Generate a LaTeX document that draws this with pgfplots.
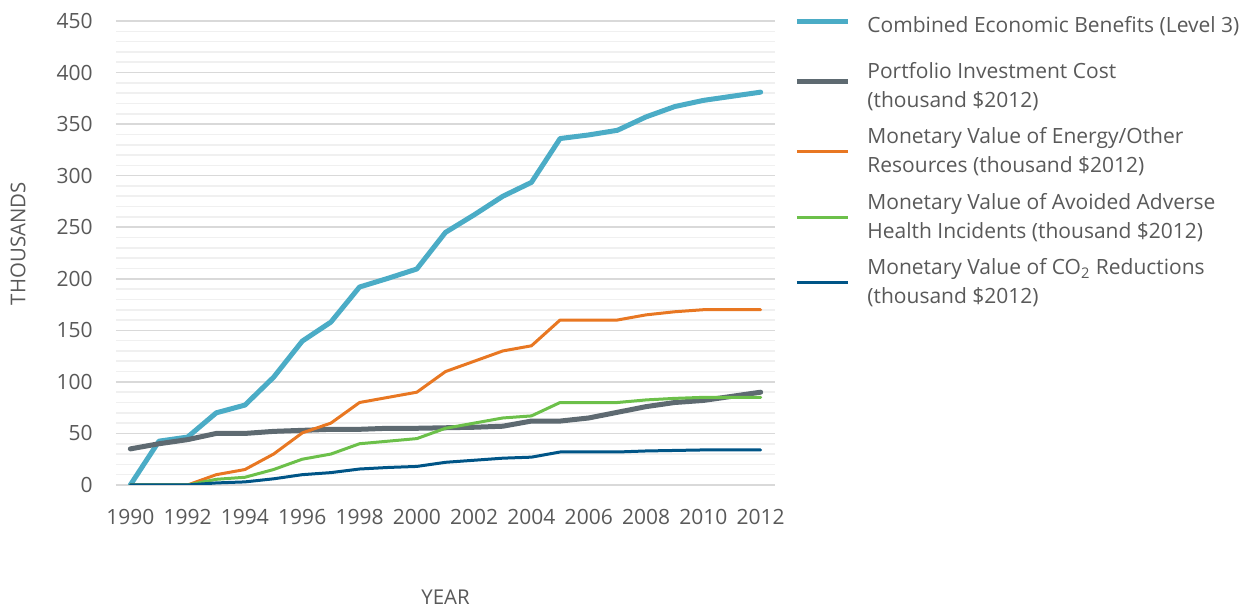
\documentclass[border=0pt]{standalone}
\usepackage{pgfplots}
\pgfplotsset{compat=1.18}
\usepackage{fontspec}
\setmainfont{Open Sans}
\definecolor{ccyan}{HTML}{4BACC6}
\definecolor{cgray}{HTML}{5E6A71}
\definecolor{corange}{HTML}{E87722}
\definecolor{cgreen}{HTML}{6CC04A}
\definecolor{cblue}{HTML}{005587}
\definecolor{txt}{HTML}{595959}
\definecolor{majgrid}{HTML}{D9D9D9}
\definecolor{mingrid}{HTML}{F0F0F0}
\begin{document}
\begin{tikzpicture}
\useasboundingbox (-58pt,-61.5pt) rectangle (568.5pt,242.5pt);
\begin{axis}[
  at={(0,0)}, anchor=south west,
  scale only axis, width=329.5pt, height=232pt,
  xmin=1989.5, xmax=2012.5, ymin=0, ymax=450,
  xtick={1990,1992,...,2012}, ytick={0,50,...,450},
  minor y tick num=4,
  ymajorgrids, yminorgrids,
  major grid style={majgrid, line width=0.8pt},
  minor grid style={mingrid, line width=0.8pt},
  axis line style={draw=none},
  major tick style={draw=none}, minor tick style={draw=none},
  /pgf/number format/assume math mode=true,
  /pgf/number format/1000 sep={},
  font=\fontsize{10.5pt}{12pt}\selectfont,
  tick label style={txt, font=\fontsize{10.5pt}{12pt}\selectfont},
  xticklabel style={inner sep=0pt, anchor=north, yshift=-12pt},
  yticklabel style={inner sep=0pt, anchor=east, xshift=-11.5pt},
  xlabel={YEAR}, ylabel={THOUSANDS},
  xlabel style={txt, font=\fontsize{10.2pt}{12pt}\selectfont, at={(axis description cs:0.5,-0.2414)}, anchor=center},
  ylabel style={txt, font=\fontsize{10.2pt}{12pt}\selectfont, at={(axis description cs:-0.1487,0.52)}, anchor=center},
  legend image code/.code={\draw[#1, line cap=butt] (0pt,0pt) -- (25.5pt,0pt);},
  legend style={draw=none, fill=none, at={(rel axis cs:1,1)}, anchor=north west,
    xshift=9.5pt, yshift=7pt, inner sep=0pt, row sep=8.75pt,
    font=\fontsize{10.5pt}{14.5pt}\selectfont, text=txt,
    nodes={inner sep=0pt, align=left, anchor=west},
    /tikz/column 1/.style={column sep=8.5pt}},
  legend cell align=left,
  every axis plot/.append style={line join=round, line cap=round},
]
\addplot[ccyan, line width=2.5pt] coordinates {
(1990,0) (1991,42.5) (1992,46.5) (1993,70) (1994,77.5) (1995,104.5) (1996,139.5) (1997,158) (1998,192) (1999,200.5) (2000,209.5) (2001,245) (2002,262) (2003,280) (2004,293.5) (2005,336) (2006,339.5) (2007,344) (2008,357) (2009,367) (2010,373) (2011,377) (2012,381)};
\addlegendentry{\rule[-7pt]{0pt}{19.5pt}Combined Economic Benefits (Level 3)}
\addplot[cgray, line width=2.5pt] coordinates {
(1990,35) (1991,40) (1992,44) (1993,50) (1994,50) (1995,52) (1996,53) (1997,54) (1998,54) (1999,55) (2000,55) (2001,55.5) (2002,56) (2003,57) (2004,62) (2005,62) (2006,65) (2007,70.5) (2008,76) (2009,80) (2010,82) (2011,86) (2012,90)};
\addlegendentry{\rule{0pt}{12.6pt}Portfolio Investment Cost\\(thousand \$2012)}
\addplot[corange, line width=1.5pt] coordinates {
(1990,0) (1991,0) (1992,0) (1993,10) (1994,15) (1995,30) (1996,50.5) (1997,60) (1998,80) (1999,85) (2000,90) (2001,110) (2002,120) (2003,130) (2004,135) (2005,160) (2006,160) (2007,160) (2008,165) (2009,168) (2010,170) (2011,170) (2012,170)};
\addlegendentry{Monetary Value of Energy/Other\\Resources (thousand \$2012)}
\addplot[cgreen, line width=1.5pt] coordinates {
(1990,0) (1991,0) (1992,0) (1993,5.5) (1994,7.5) (1995,15) (1996,25) (1997,30) (1998,40) (1999,42.5) (2000,45) (2001,55) (2002,60) (2003,65) (2004,67) (2005,80) (2006,80) (2007,80) (2008,82.5) (2009,84) (2010,85) (2011,85) (2012,85)};
\addlegendentry{Monetary Value of Avoided Adverse\\Health Incidents (thousand \$2012)}
\addplot[cblue, line width=1.5pt] coordinates {
(1990,0) (1991,0) (1992,0) (1993,2) (1994,3) (1995,6) (1996,10) (1997,12) (1998,15.5) (1999,17) (2000,18) (2001,22) (2002,24) (2003,26) (2004,27) (2005,32) (2006,32) (2007,32) (2008,33) (2009,33.5) (2010,34) (2011,34) (2012,34)};
\addlegendentry{Monetary Value of CO\textsubscript{2} Reductions\\(thousand \$2012)}
\end{axis}
\end{tikzpicture}
\end{document}
